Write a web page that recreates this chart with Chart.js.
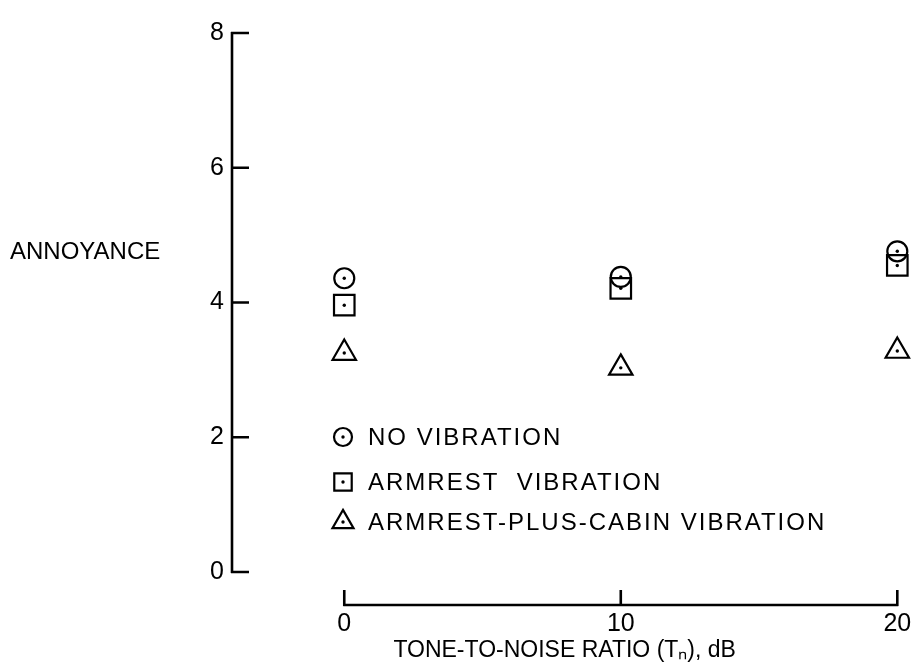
<!DOCTYPE html>
<html>
<head>
<meta charset="utf-8">
<script src="https://cdn.jsdelivr.net/npm/chart.js@4.4.1/dist/chart.umd.min.js"></script>
<style>
  html, body { margin: 0; padding: 0; background: #fff; }
  #contenedor { width: 914px; height: 670px; position: relative; }
</style>
</head>
<body>
<div id="contenedor"><canvas id="grafico"></canvas></div>
<script>
// Datos
const tonoRuido = [0, 10, 20];
const sinVibracion = [4.36, 4.38, 4.76];
const vibracionBrazo = [3.96, 4.21, 4.55];
const vibracionBrazoCabina = [3.25, 3.03, 3.28];
const nombresSeries = ['NO VIBRATION', 'ARMREST  VIBRATION', 'ARMREST-PLUS-CABIN VIBRATION'];
const ticksX = [0, 10, 20];
const ticksY = [0, 2, 4, 6, 8];

const fuente = '"Liberation Sans", Arial, sans-serif';
const estilos = ['circle', 'rect', 'triangle'];
const radios = [10, 14.5, 13.5];

function puntos(valores) {
  return tonoRuido.map((t, i) => ({ x: t, y: valores[i] }));
}

// Dibuja un marcador con la misma geometría que Chart.js
function marcador(ctx, estilo, r, x, y) {
  ctx.beginPath();
  if (estilo === 'circle') {
    ctx.arc(x, y, r, 0, Math.PI * 2);
  } else if (estilo === 'rect') {
    const s = Math.SQRT1_2 * r;
    ctx.rect(x - s, y - s, 2 * s, 2 * s);
  } else {
    ctx.moveTo(x, y - r);
    ctx.lineTo(x + r * 0.866, y + r / 2);
    ctx.lineTo(x - r * 0.866, y + r / 2);
    ctx.closePath();
  }
  ctx.stroke();
  ctx.beginPath();
  ctx.arc(x, y, 1.7, 0, Math.PI * 2);
  ctx.fill();
}

// Ejes separados, punto central de cada marcador, leyenda y rótulo del eje Y
const extras = {
  id: 'extras',
  afterDatasetsDraw(chart) {
    const { ctx, chartArea, scales: { x, y } } = chart;
    ctx.save();
    ctx.fillStyle = '#000';
    ctx.strokeStyle = '#000';

    // puntos centrales
    chart.data.datasets.forEach((ds, i) => {
      chart.getDatasetMeta(i).data.forEach(el => {
        ctx.beginPath();
        ctx.arc(el.x, el.y, 1.7, 0, Math.PI * 2);
        ctx.fill();
      });
    });

    // eje Y
    ctx.lineWidth = 2.6;
    const x0 = chartArea.left;
    ctx.beginPath();
    ctx.moveTo(x0, y.getPixelForValue(8) - 1);
    ctx.lineTo(x0, y.getPixelForValue(0) + 1);
    ticksY.forEach(v => {
      const py = y.getPixelForValue(v);
      ctx.moveTo(x0 - 1, py);
      ctx.lineTo(x0 + 17, py);
    });
    ctx.stroke();

    // eje X (desplazado hacia abajo)
    const yEje = y.getPixelForValue(0) + 33;
    ctx.beginPath();
    ctx.moveTo(x.getPixelForValue(0) - 1, yEje);
    ctx.lineTo(x.getPixelForValue(20) + 1, yEje);
    ticksX.forEach(v => {
      const px = x.getPixelForValue(v);
      ctx.moveTo(px, yEje + 1);
      ctx.lineTo(px, yEje - 15);
    });
    ctx.stroke();

    // rótulo del eje Y
    ctx.font = '24px ' + fuente;
    ctx.textBaseline = 'middle';
    ctx.textAlign = 'left';
    ctx.fillText('ANNOYANCE', 10, 252);

    // leyenda
    ctx.lineWidth = 2.2;
    ctx.letterSpacing = '2px';
    const filas = [437, 482, 522];
    nombresSeries.forEach((nombre, i) => {
      marcador(ctx, estilos[i], radios[i] * (i === 1 ? 0.85 : 0.9), 343, filas[i]);
      ctx.fillText(nombre, 368, filas[i] + 1);
    });
    ctx.restore();
  }
};

const ctx = document.getElementById('grafico').getContext('2d');

new Chart(ctx, {
  type: 'scatter',
  data: {
    datasets: [sinVibracion, vibracionBrazo, vibracionBrazoCabina].map((vals, i) => ({
      label: nombresSeries[i],
      data: puntos(vals),
      pointStyle: estilos[i],
      pointRadius: radios[i],
      pointHoverRadius: radios[i],
      borderColor: '#000',
      backgroundColor: 'rgba(0,0,0,0)',
      pointBorderWidth: 2.2,
      clip: false
    }))
  },
  options: {
    responsive: true,
    maintainAspectRatio: false,
    animation: false,
    events: [],
    layout: { padding: { left: 192, top: 33, right: 7, bottom: 0 } },
    plugins: {
      legend: { display: false },
      tooltip: { enabled: false }
    },
    scales: {
      x: {
        type: 'linear',
        min: -4.06,
        max: 20,
        afterFit(scale) {
          scale.height = 98;
          scale.paddingLeft = 0;
          scale.paddingRight = 0;
        },
        afterBuildTicks(scale) { scale.ticks = ticksX.map(v => ({ value: v })); },
        grid: { display: false, drawTicks: false },
        border: { display: false },
        ticks: {
          color: '#000',
          padding: 37,
          font: { family: fuente, size: 25 }
        },
        title: {
          display: true,
          text: 'TONE-TO-NOISE RATIO (Tₙ), dB',
          color: '#000',
          font: { family: fuente, size: 23 },
          padding: { top: 0, bottom: 6 }
        }
      },
      y: {
        min: 0,
        max: 8,
        afterFit(scale) { scale.width = 40; },
        afterBuildTicks(scale) { scale.ticks = ticksY.map(v => ({ value: v })); },
        grid: { display: false, drawTicks: false },
        border: { display: false },
        ticks: {
          color: '#000',
          padding: 8,
          font: { family: fuente, size: 25 }
        }
      }
    }
  },
  plugins: [extras]
});
</script>
</body>
</html>
